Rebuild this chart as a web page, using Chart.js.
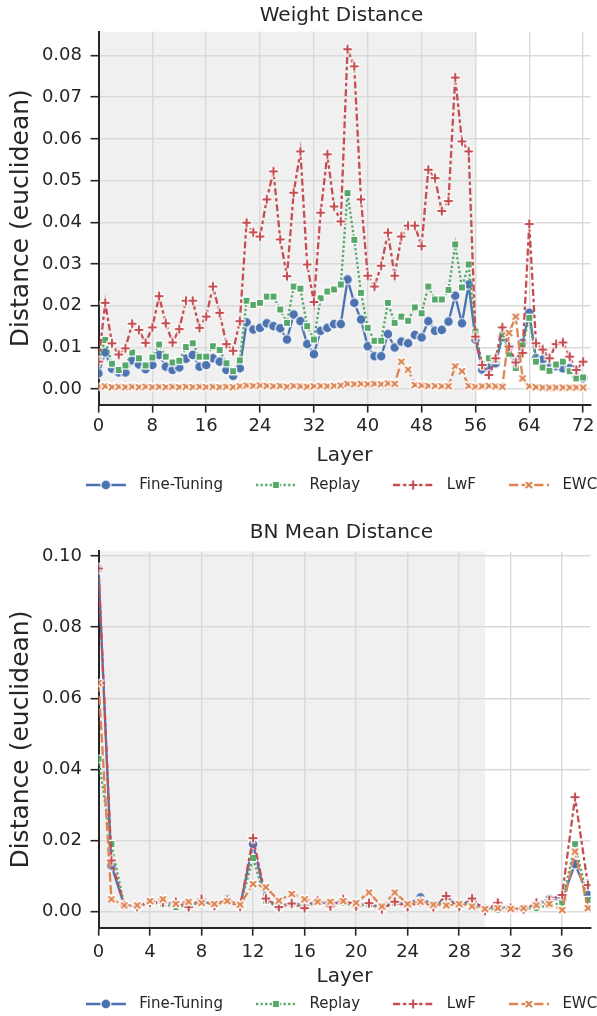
<!DOCTYPE html>
<html><head><meta charset="utf-8">
<script src="https://cdn.jsdelivr.net/npm/chart.js@4/dist/chart.umd.min.js"></script>
<style>
html,body{margin:0;padding:0;overflow:hidden;background:#fff;width:597px;height:1016px;position:relative}
.wrap{position:absolute;left:0;width:683px}
#w1{top:0;height:508px}
#w2{top:508px;height:520px}
canvas{display:block}
</style></head><body>
<div class="wrap" id="w1"><canvas id="c1" width="683" height="508"></canvas></div>
<div class="wrap" id="w2"><canvas id="c2" width="683" height="520"></canvas></div>
<script>
// ---------------- DATA ----------------
const seriesNames = ['Fine-Tuning', 'Replay', 'LwF', 'EWC'];

const weightLayers = [0,1,2,3,4,5,6,7,8,9,10,11,12,13,14,15,16,17,18,19,20,21,22,23,24,25,26,27,28,29,30,31,32,33,34,35,36,37,38,39,40,41,42,43,44,45,46,47,48,49,50,51,52,53,54,55,56,57,58,59,60,61,62,63,64,65,66,67,68,69,70,71,72];
const ftWeight = [0.0038,0.0088,0.0049,0.0040,0.0040,0.0069,0.0059,0.0048,0.0058,0.0082,
  0.0054,0.0046,0.0052,0.0073,0.0082,0.0054,0.0058,0.0074,0.0066,0.0046,
  0.0032,0.0050,0.0160,0.0143,0.0147,0.0158,0.0151,0.0146,0.0119,0.0179,
  0.0163,0.0108,0.0084,0.0140,0.0147,0.0156,0.0156,0.0263,0.0207,0.0167,
  0.0103,0.0079,0.0079,0.0132,0.0100,0.0114,0.0110,0.0130,0.0124,0.0163,
  0.0140,0.0142,0.0162,0.0224,0.0158,0.0251,0.0119,0.0047,0.0052,0.0062,
  0.0125,0.0100,0.0065,0.0111,0.0183,0.0074,0.0071,0.0052,0.0055,0.0050,
  0.0050,0.0030,0.0026];
const replayWeight = [0.0070,0.0118,0.0061,0.0046,0.0057,0.0088,0.0074,0.0057,0.0076,0.0107,
  0.0078,0.0064,0.0068,0.0101,0.0110,0.0078,0.0078,0.0103,0.0094,0.0062,
  0.0043,0.0069,0.0212,0.0202,0.0207,0.0222,0.0222,0.0191,0.0159,0.0246,
  0.0241,0.0151,0.0119,0.0218,0.0234,0.0239,0.0251,0.0470,0.0358,0.0231,
  0.0147,0.0116,0.0116,0.0207,0.0159,0.0174,0.0164,0.0196,0.0182,0.0246,
  0.0215,0.0215,0.0238,0.0347,0.0244,0.0299,0.0138,0.0060,0.0074,0.0070,
  0.0131,0.0085,0.0051,0.0105,0.0171,0.0066,0.0052,0.0044,0.0059,0.0066,
  0.0043,0.0026,0.0028];
const lwfWeight = [0.0066,0.0207,0.0110,0.0083,0.0098,0.0157,0.0142,0.0111,0.0148,0.0223,
  0.0158,0.0112,0.0144,0.0212,0.0212,0.0147,0.0174,0.0246,0.0183,0.0108,
  0.0092,0.0163,0.0399,0.0376,0.0366,0.0455,0.0522,0.0359,0.0271,0.0471,
  0.0570,0.0299,0.0209,0.0423,0.0563,0.0438,0.0402,0.0815,0.0774,0.0455,
  0.0272,0.0246,0.0296,0.0375,0.0272,0.0366,0.0392,0.0392,0.0343,0.0526,
  0.0506,0.0427,0.0451,0.0747,0.0594,0.0570,0.0126,0.0058,0.0034,0.0074,
  0.0148,0.0102,0.0064,0.0087,0.0396,0.0110,0.0095,0.0074,0.0108,0.0112,
  0.0078,0.0046,0.0066];
const ewcWeight = [0.0006,0.0007,0.0005,0.0006,0.0005,0.0006,0.0005,0.0006,0.0005,0.0006,
  0.0005,0.0006,0.0005,0.0006,0.0005,0.0006,0.0005,0.0006,0.0005,0.0006,
  0.0005,0.0007,0.0009,0.0008,0.0009,0.0008,0.0007,0.0008,0.0006,0.0008,
  0.0007,0.0006,0.0007,0.0008,0.0007,0.0008,0.0009,0.0013,0.0012,0.0013,
  0.0012,0.0013,0.0012,0.0014,0.0013,0.0066,0.0047,0.0010,0.0009,0.0008,
  0.0008,0.0007,0.0007,0.0055,0.0043,0.0008,0.0006,0.0007,0.0008,0.0007,
  0.0006,0.0135,0.0174,0.0026,0.0007,0.0005,0.0004,0.0004,0.0004,0.0004,
  0.0004,0.0004,0.0004];

const bnLayers = [0,1,2,3,4,5,6,7,8,9,10,11,12,13,14,15,16,17,18,19,20,21,22,23,24,25,26,27,28,29,30,31,32,33,34,35,36,37,38];
const ftBN = [0.0965,0.0130,0.0018,0.0015,0.0027,0.0025,0.0022,0.0016,0.0030,0.0020,
  0.0035,0.0017,0.0190,0.0035,0.0015,0.0025,0.0018,0.0030,0.0020,0.0030,
  0.0018,0.0022,0.0012,0.0028,0.0020,0.0040,0.0018,0.0035,0.0020,0.0030,
  0.0008,0.0015,0.0010,0.0008,0.0018,0.0035,0.0035,0.0134,0.0047];
const replayBN = [0.0430,0.0190,0.0018,0.0015,0.0025,0.0022,0.0013,0.0018,0.0025,0.0020,
  0.0030,0.0017,0.0151,0.0030,0.0013,0.0022,0.0015,0.0025,0.0018,0.0025,
  0.0015,0.0020,0.0010,0.0025,0.0018,0.0030,0.0015,0.0030,0.0018,0.0025,
  0.0008,0.0005,0.0008,0.0007,0.0010,0.0018,0.0025,0.0190,0.0033];
const lwfBN = [0.0965,0.0144,0.0019,0.0014,0.0026,0.0026,0.0027,0.0013,0.0036,0.0017,
  0.0031,0.0014,0.0207,0.0037,0.0013,0.0023,0.0010,0.0031,0.0015,0.0035,
  0.0015,0.0024,0.0007,0.0028,0.0013,0.0028,0.0013,0.0044,0.0014,0.0037,
  0.0003,0.0025,0.0010,0.0007,0.0025,0.0033,0.0047,0.0322,0.0075];
const ewcBN = [0.0643,0.0035,0.0018,0.0018,0.0030,0.0035,0.0022,0.0028,0.0025,0.0022,
  0.0030,0.0020,0.0078,0.0069,0.0031,0.0050,0.0035,0.0028,0.0028,0.0030,
  0.0025,0.0054,0.0015,0.0054,0.0022,0.0028,0.0020,0.0018,0.0022,0.0015,
  0.0008,0.0010,0.0008,0.0010,0.0018,0.0022,0.0005,0.0169,0.0010];

const weightXTicks = [0,8,16,24,32,40,48,56,64,72];
const weightYTicks = [0,0.01,0.02,0.03,0.04,0.05,0.06,0.07,0.08];
const bnXTicks = [0,4,8,12,16,20,24,28,32,36];
const bnYTicks = [0,0.02,0.04,0.06,0.08,0.10];
const weightSpan = [0, 56];
const bnSpan = [0, 30];

// ---------------- STYLE ----------------
const FONT = "'DejaVu Sans', 'Liberation Sans', sans-serif";
Chart.defaults.font.family = FONT;
const TXT = '#262626';
const AX = '#262626';
const GRID = '#d9d9d9';
const SPAN = '#f0f0f0';
const colors = ['#4C72B0', '#55A868', '#C44E52', '#DD8452'];
const kinds = ['circle', 'square', 'plus', 'x'];
const LW = 2.3;
const dashes = [[], [LW, LW], [3*LW, 1.25*LW, 1.5*LW, 1.25*LW], [4*LW, 1.5*LW]];
const MS = 10;

function drawMarker(ctx, kind, cx, cy, color) {
  ctx.save();
  ctx.translate(cx, cy);
  ctx.fillStyle = color;
  ctx.strokeStyle = '#ffffff';
  ctx.lineWidth = 1.2;
  ctx.setLineDash([]);
  ctx.beginPath();
  if (kind === 'circle') {
    ctx.arc(0, 0, MS / 2, 0, Math.PI * 2);
  } else if (kind === 'square') {
    const h = MS / 2 / Math.SQRT2;
    ctx.rect(-h, -h, 2 * h, 2 * h);
  } else {
    if (kind === 'x') ctx.rotate(Math.PI / 4);
    const a = MS / 2, b = MS / 6;
    ctx.moveTo(-b, -a); ctx.lineTo(b, -a); ctx.lineTo(b, -b); ctx.lineTo(a, -b);
    ctx.lineTo(a, b); ctx.lineTo(b, b); ctx.lineTo(b, a); ctx.lineTo(-b, a);
    ctx.lineTo(-b, b); ctx.lineTo(-a, b); ctx.lineTo(-a, -b); ctx.lineTo(-b, -b);
    ctx.closePath();
  }
  ctx.fill();
  ctx.stroke();
  ctx.restore();
}
function markerImage(i) {
  const c = document.createElement('canvas');
  c.width = 16; c.height = 16;
  drawMarker(c.getContext('2d'), kinds[i], 8, 8, colors[i]);
  return c;
}
function legendImage(i) {
  const c = document.createElement('canvas');
  c.width = 46; c.height = 16;
  const ctx = c.getContext('2d');
  ctx.strokeStyle = colors[i];
  ctx.lineWidth = LW;
  ctx.setLineDash(dashes[i]);
  ctx.beginPath(); ctx.moveTo(0, 8); ctx.lineTo(40, 8); ctx.stroke();
  drawMarker(ctx, kinds[i], 20, 8, colors[i]);
  return c;
}
const markerImgs = [0, 1, 2, 3].map(markerImage);
const legendImgs = [0, 1, 2, 3].map(legendImage);

const spanPlugin = {
  id: 'span',
  beforeDraw(chart, args, opts) {
    const {ctx, chartArea: a, scales: {x}} = chart;
    const x0 = x.getPixelForValue(opts.range[0]);
    const x1 = x.getPixelForValue(opts.range[1]);
    ctx.save();
    ctx.fillStyle = SPAN;
    ctx.fillRect(x0, a.top, x1 - x0, a.bottom - a.top);
    ctx.restore();
  }
};

function build(id, p) {
  const W = 683;
  const titleSize = 20, titleLH = 24;
  const tickSize = 18, tickLH = 21.6;
  const xTitleSize = 20, xTitleLH = 24;
  const yTitleSize = 25, yTitleLH = 30;
  const legSize = 15, legPad = 33;
  const tickLen = 8;
  const axisLeft = 98.5, axisRight = 590.5;
  const legendTop = p.legendCenter - legPad - legSize / 2;
  const xAxisH = legendTop - p.chartBottom;
  const legendH = legSize + legPad + 10;
  const padBottom = p.H - (legendTop + legendH);
  const series = p.series;
  return new Chart(document.getElementById(id), {
    type: 'line',
    data: {
      datasets: seriesNames.map((name, i) => ({
        label: name,
        data: p.x.map((xv, j) => ({x: xv, y: series[i][j]})),
        borderColor: colors[i],
        backgroundColor: colors[i],
        borderWidth: LW,
        borderDash: dashes[i],
        pointStyle: markerImgs[i],
        pointRadius: 5,
        pointHoverRadius: 5,
        tension: 0,
        fill: false,
        clip: 0,
        order: 4 - i
      }))
    },
    options: {
      responsive: false,
      animation: false,
      events: [],
      layout: {padding: {left: 0, right: 0, top: 0, bottom: padBottom}},
      scales: {
        x: {
          type: 'linear', position: 'bottom', min: 0, max: p.xMax,
          afterBuildTicks: s => { s.ticks = p.xTicks.map(v => ({value: v})); },
          afterFit: s => { s.height = xAxisH; },
          ticks: {
            font: {size: tickSize, lineHeight: tickLH / tickSize}, color: TXT,
            padding: p.xLabelCenter - p.chartBottom - tickLen - tickLH / 2,
            maxRotation: 0, autoSkip: false, includeBounds: false,
            callback: v => String(v)
          },
          grid: {color: GRID, lineWidth: 1.4, tickColor: AX, tickWidth: 1.6, tickLength: tickLen},
          border: {display: true, color: AX, width: 2},
          title: {
            display: true, text: 'Layer', color: TXT,
            font: {size: xTitleSize, lineHeight: xTitleLH / xTitleSize},
            padding: {top: 0, bottom: (legendTop - p.xTitleCenter) - xTitleLH / 2}
          }
        },
        y: {
          type: 'linear', position: 'left', min: p.yMin, max: p.yMax,
          afterBuildTicks: s => { s.ticks = p.yTicks.map(v => ({value: v})); },
          afterFit: s => { s.width = axisLeft; },
          ticks: {
            font: {size: tickSize, lineHeight: tickLH / tickSize}, color: TXT,
            padding: 8.5, includeBounds: false,
            callback: v => Number(v).toFixed(2)
          },
          grid: {color: GRID, lineWidth: 1.4, tickColor: AX, tickWidth: 1.6, tickLength: tickLen},
          border: {display: true, color: AX, width: 2},
          title: {
            display: true, text: 'Distance (euclidean)', color: TXT,
            font: {size: yTitleSize, lineHeight: yTitleLH / yTitleSize},
            padding: {top: 6, bottom: 0}
          }
        },
        yR: {
          type: 'linear', position: 'right', display: true,
          ticks: {display: false}, grid: {display: false}, border: {display: false},
          afterFit: s => { s.width = W - axisRight; }
        }
      },
      plugins: {
        span: {range: p.span},
        tooltip: {enabled: false},
        title: {
          display: true, text: p.title, color: TXT,
          font: {size: titleSize, weight: 'normal', lineHeight: titleLH / titleSize},
          padding: {top: p.titleCenter - titleLH / 2, bottom: p.chartTop - p.titleCenter - titleLH / 2}
        },
        legend: {
          display: true, position: 'bottom', align: 'center',
          labels: {
            usePointStyle: true, pointStyleWidth: 46, padding: legPad,
            color: TXT, font: {size: legSize},
            generateLabels: () => seriesNames.map((n, i) => ({
              text: n, pointStyle: legendImgs[i], fillStyle: colors[i], strokeStyle: colors[i],
              lineWidth: 0, hidden: false, datasetIndex: i, fontColor: TXT
            }))
          }
        }
      }
    },
    plugins: [spanPlugin]
  });
}

build('c1', {
  H: 508, title: 'Weight Distance', x: weightLayers,
  series: [ftWeight, replayWeight, lwfWeight, ewcWeight],
  xMax: 73.1, yMin: -0.0037, yMax: 0.0857,
  xTicks: weightXTicks, yTicks: weightYTicks, span: weightSpan,
  titleCenter: 16, chartTop: 31.7, chartBottom: 404.6,
  xLabelCenter: 426.6, xTitleCenter: 455.6, legendCenter: 485
});
build('c2', {
  H: 520, title: 'BN Mean Distance', x: bnLayers,
  series: [ftBN, replayBN, lwfBN, ewcBN],
  xMax: 38.2, yMin: -0.0045, yMax: 0.1013,
  xTicks: bnXTicks, yTicks: bnYTicks, span: bnSpan,
  titleCenter: 25, chartTop: 43.4, chartBottom: 419.7,
  xLabelCenter: 444, xTitleCenter: 469, legendCenter: 496
});
</script>
</body></html>
